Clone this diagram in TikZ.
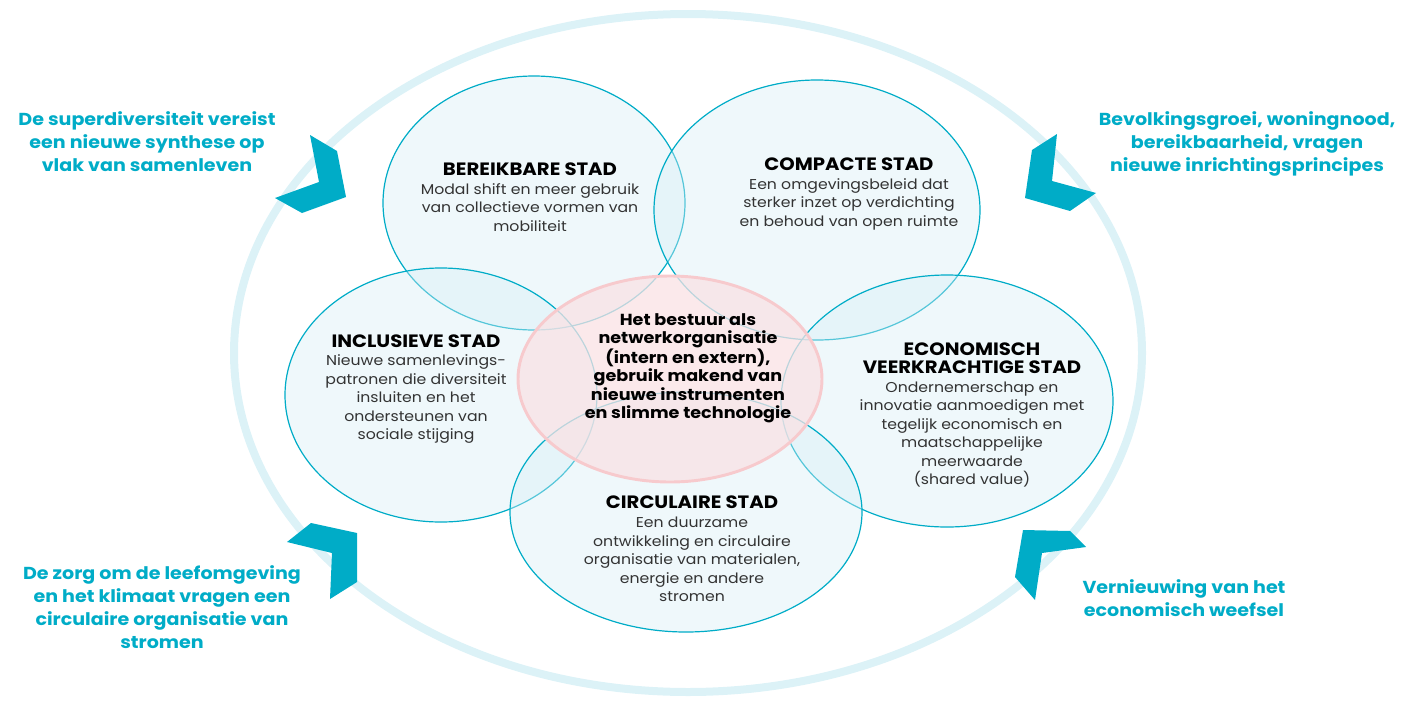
\documentclass[tikz,border=0pt]{standalone}
\usepackage{fontspec}
\setmainfont{Poppins}[FakeStretch=1.1]
\usetikzlibrary{shapes.geometric}
\definecolor{cyaan}{RGB}{0,172,199}
\definecolor{rand}{RGB}{220,242,247}
\definecolor{stadfill}{RGB}{214,238,246}
\definecolor{roze}{RGB}{250,226,228}
\definecolor{rozerand}{RGB}{247,202,205}
\definecolor{tekst}{RGB}{51,51,51}
\tikzset{
  stad/.style={ellipse, draw=cyaan, line width=0.9pt, fill=stadfill, fill opacity=0.4, inner sep=0pt},
  kop/.style={align=center, text=tekst, font=\fontsize{10.7}{13.9}\selectfont},
  zijtekst/.style={align=center, text=cyaan, font=\bfseries\fontsize{13}{17.2}\selectfont},
  pijl/.style={fill=cyaan, draw=none}
}
\newcommand{\titel}[1]{{\bfseries\color{black}\fontsize{13.4}{15}\selectfont #1}}
\begin{document}
\begin{tikzpicture}[x=0.75pt,y=0.75pt]
\useasboundingbox (0,0) rectangle (1402,-700);
\node (rand) [ellipse, draw=rand, line width=6pt, minimum width=681pt, minimum height=508.5pt, inner sep=0pt] at (688,-353) {};
\node (bereik) [stad, minimum width=226.5pt, minimum height=190.5pt] at (534,-203) {};
\node (compact) [stad, minimum width=244.5pt, minimum height=195pt] at (817,-210) {};
\node (inclus) [stad, minimum width=234pt, minimum height=190.5pt] at (441,-395) {};
\node (econ) [stad, minimum width=249pt, minimum height=189pt] at (947,-401) {};
\node (circ) [stad, minimum width=264pt, minimum height=180pt] at (686,-512) {};
\node (bestuur) [ellipse, draw=rozerand, line width=2.2pt, fill=roze, fill opacity=0.75, minimum width=228pt, minimum height=154.5pt, inner sep=0pt] at (670,-379) {};
\node (tbereik) [kop] at (530,-197) {\titel{BEREIKBARE STAD}\\Modal shift en meer gebruik\\van collectieve vormen van\\mobiliteit};
\node (tcompact) [kop] at (849,-194) {\titel{COMPACTE STAD}\\Een omgevingsbeleid dat\\sterker inzet op verdichting\\en behoud van open ruimte};
\node (tinclus) [kop] at (416,-389) {\titel{INCLUSIEVE STAD}\\Nieuwe samenlevings-\\patronen die diversiteit\\insluiten en het\\ondersteunen van\\sociale stijging};
\node (tecon) [kop] at (972,-415) {\titel{ECONOMISCH}\\\titel{VEERKRACHTIGE STAD}\\Ondernemerschap en\\innovatie aanmoedigen met\\tegelijk economisch en\\maatschappelijke\\meerwaarde\\(shared value)};
\node (tcirc) [kop] at (692,-549) {\titel{CIRCULAIRE STAD}\\Een duurzame\\ontwikkeling en circulaire\\organisatie van materialen,\\energie en andere\\stromen};
\node (tbestuur) [align=center, font=\bfseries\fontsize{12}{13.7}\selectfont] at (688,-368) {Het bestuur als\\netwerkorganisatie\\(intern en extern),\\gebruik makend van\\nieuwe instrumenten\\en slimme technologie};
\fill[pijl] (310,-135) -- (337,-151) -- (346,-197) -- (302,-213) -- (275,-198) -- (319,-182) -- cycle;
\fill[pijl] (1057,-134) -- (1032,-150) -- (1025,-198) -- (1070,-211) -- (1096,-193) -- (1052,-181) -- cycle;
\fill[pijl] (287,-542) -- (311,-523) -- (357,-533) -- (357,-582) -- (330,-599) -- (332,-553) -- cycle;
\fill[pijl] (1023,-530) -- (1070,-531) -- (1086,-547) -- (1042,-553) -- (1035,-600) -- (1015,-577) -- cycle;
\node (superdiv) [zijtekst] at (147,-142) {De superdiversiteit vereist\\een nieuwe synthese op\\vlak van samenleven};
\node (bevolking) [zijtekst] at (1247,-144) {Bevolkingsgroei, woningnood,\\bereikbaarheid, vragen\\nieuwe inrichtingsprincipes};
\node (zorg) [zijtekst] at (162,-607) {De zorg om de leefomgeving\\en het klimaat vragen een\\circulaire organisatie van\\stromen};
\node (vernieuw) [zijtekst] at (1184,-598) {Vernieuwing van het\\economisch weefsel};
\end{tikzpicture}
\end{document}
